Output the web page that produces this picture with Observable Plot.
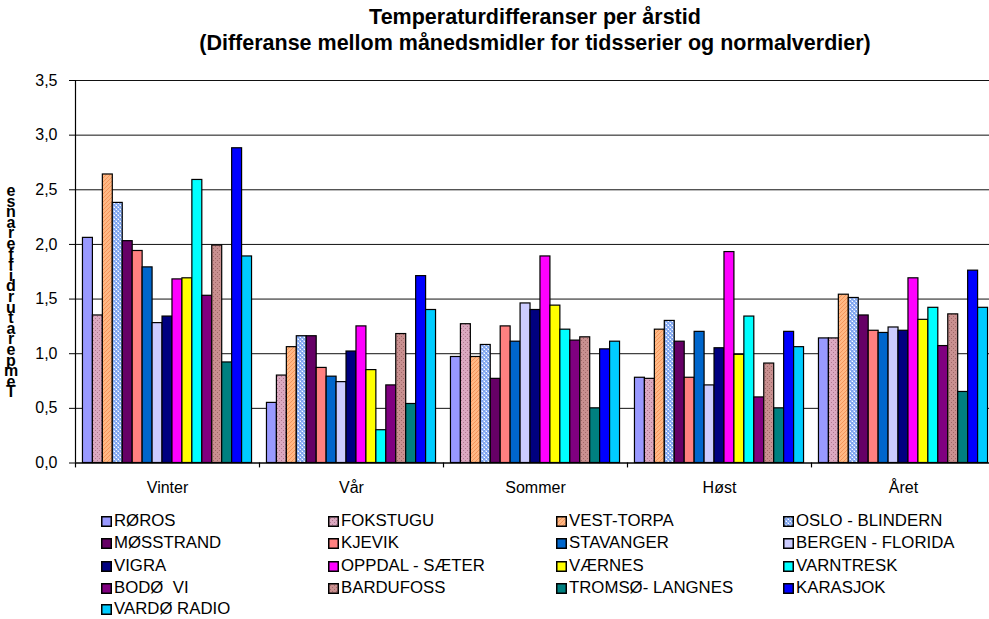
<!DOCTYPE html>
<html><head><meta charset="utf-8">
<script src="https://cdn.jsdelivr.net/npm/d3@7"></script>
<script src="https://cdn.jsdelivr.net/npm/@observablehq/plot@0.6"></script>
<style>
html,body{margin:0;padding:0;background:#fff;overflow:hidden}
#wrap{position:relative;width:989px;height:619px;overflow:hidden;font-family:"Liberation Sans",Arial,sans-serif;color:#000}
.t{position:absolute;left:0;width:1070px;text-align:center;font-weight:bold;font-size:21.5px;line-height:24px;white-space:nowrap}
#ylab{position:absolute;left:1px;top:186px;width:20px;font-weight:bold;font-size:16px;text-align:center}
#ylab div{height:10.6px;line-height:10.6px}
#chart{position:absolute;left:0;top:0}
.li{position:absolute;font-size:16.8px;line-height:18px;white-space:nowrap}
.li svg{position:absolute;left:0;top:4px}
.li span{position:absolute;left:13px;top:0}
</style></head>
<body><div id="wrap">
<div class="t" style="top:5px">Temperaturdifferanser per årstid</div>
<div class="t" style="top:31px">(Differanse mellom månedsmidler for tidsserier og normalverdier)</div>
<div id="ylab"></div>
<div id="chart"></div>
<div id="legend"></div>
</div>
<script>
const seasons = ["Vinter", "Vår", "Sommer", "Høst", "Året"];
const stations = ["RØROS", "FOKSTUGU", "VEST-TORPA", "OSLO - BLINDERN", "MØSSTRAND", "KJEVIK", "STAVANGER", "BERGEN - FLORIDA", "VIGRA", "OPPDAL - SÆTER", "VÆRNES", "VARNTRESK", "BODØ  VI", "BARDUFOSS", "TROMSØ- LANGNES", "KARASJOK", "VARDØ RADIO"];
const fills = ["#9999FF", "url(#pFok)", "url(#pVest)", "url(#pOslo)", "#660066", "#FF8080", "#0066CC", "#CCCCFF", "#000080", "#FF00FF", "#FFFF00", "#00FFFF", "#800080", "url(#pBard)", "#008080", "#0000FF", "#00CCFF"];
const vinter = [2.06, 1.35, 2.64, 2.38, 2.03, 1.94, 1.79, 1.28, 1.34, 1.68, 1.69, 2.59, 1.53, 1.99, 0.92, 2.88, 1.89];
const vaar = [0.55, 0.80, 1.06, 1.16, 1.16, 0.87, 0.79, 0.74, 1.02, 1.25, 0.85, 0.30, 0.71, 1.18, 0.54, 1.71, 1.40];
const sommer = [0.97, 1.27, 0.97, 1.08, 0.77, 1.25, 1.11, 1.46, 1.40, 1.89, 1.44, 1.22, 1.12, 1.15, 0.50, 1.04, 1.11];
const host = [0.78, 0.77, 1.22, 1.30, 1.11, 0.78, 1.20, 0.71, 1.05, 1.93, 0.99, 1.34, 0.60, 0.91, 0.50, 1.20, 1.06];
const aret = [1.14, 1.14, 1.54, 1.51, 1.35, 1.21, 1.19, 1.24, 1.21, 1.69, 1.31, 1.42, 1.07, 1.36, 0.65, 1.76, 1.42];
const yTicks = [0, 0.5, 1.0, 1.5, 2.0, 2.5, 3.0, 3.5];
const yTitle = "Temperaturdifferanse";

const seasonValues = [vinter, vaar, sommer, host, aret];
const rows = seasons.flatMap((s, k) => stations.map((st, i) => ({season: s, station: st, i, value: seasonValues[k][i]})));

const chart = Plot.plot({
  width: 1000, height: 500,
  marginLeft: 74, marginRight: 4, marginTop: 80, marginBottom: 37.5,
  style: {fontFamily: "'Liberation Sans', Arial, sans-serif", fontSize: "16px", background: "transparent", overflow: "visible", maxWidth: "none"},
  fx: {domain: seasons, padding: 0, label: null},
  x: {domain: [-0.75, stations.length + 0.75], axis: null},
  y: {domain: [0, 3.5], axis: null},
  color: {domain: stations, range: fills},
  marks: [
    Plot.gridY(yTicks, {stroke: "#111", strokeOpacity: 1, strokeWidth: 1}),
    Plot.rect(rows, {fx: "season", x1: "i", x2: d => d.i + 1, y1: 0, y2: "value", fill: "station", stroke: "#000", strokeWidth: 1.2}),
    Plot.ruleY([0], {stroke: "#000", strokeWidth: 1.2}),
    Plot.ruleX(seasons, {fx: d => d, x: -0.75, y1: 0, y2: -0.045, stroke: "#000", strokeWidth: 1.2}),
    Plot.ruleX([seasons[0]], {fx: d => d, x: -0.75, y1: 0, y2: 3.5, stroke: "#000", strokeWidth: 1.2}),
    Plot.axisY(yTicks, {anchor: "left", tickSize: 6, tickPadding: 12, fontSize: 16, tickFormat: d => d.toFixed(1).replace(".", ","), label: null}),
    Plot.axisFx({anchor: "bottom", tickSize: 0, tickPadding: 19, fontSize: 16, label: null})
  ]
});

const defs = `
<defs>
<pattern id="pFok" width="4" height="4" patternUnits="userSpaceOnUse"><rect width="4" height="4" fill="#DBA9C0"/><rect x="0" y="0" width="1" height="1" fill="#B07890"/><rect x="2" y="2" width="1" height="1" fill="#B07890"/></pattern>
<pattern id="pVest" width="4" height="4" patternUnits="userSpaceOnUse"><rect width="4" height="4" fill="#FFB884"/><path d="M0,4L4,0" stroke="#F08A50" stroke-width="0.8"/></pattern>
<pattern id="pOslo" width="4" height="4" patternUnits="userSpaceOnUse"><rect width="4" height="4" fill="#A8C4F8"/><rect x="0" y="0" width="2" height="2" fill="#7FA4EE"/><rect x="2" y="2" width="2" height="2" fill="#7FA4EE"/><rect x="1" y="3" width="1" height="1" fill="#fff"/><rect x="3" y="1" width="1" height="1" fill="#fff"/></pattern>
<pattern id="pBard" width="4" height="4" patternUnits="userSpaceOnUse"><rect width="4" height="4" fill="#C99090"/><rect x="0" y="0" width="1" height="1" fill="#A06868"/><rect x="2" y="2" width="1" height="1" fill="#A06868"/></pattern>
</defs>`;
chart.insertAdjacentHTML("afterbegin", defs);
document.getElementById("chart").appendChild(chart);

// y title: stacked letters, reversed (as in the reference)
const yl = document.getElementById("ylab");
yTitle.split("").reverse().forEach(c => { const d = document.createElement("div"); d.textContent = c; yl.appendChild(d); });

// legend
const cols = [101, 328, 556, 783];
const rowsY = [520.7, 543, 566, 588, 609];
const lg = document.getElementById("legend");
stations.forEach((st, i) => {
  const c = i % 4, r = Math.floor(i / 4);
  const el = document.createElement("div");
  el.className = "li";
  el.style.left = cols[c] + "px";
  el.style.top = (rowsY[r] - 9) + "px";
  el.innerHTML = `<svg width="11" height="11"><rect x="0.75" y="0.75" width="9.5" height="9.5" fill="${fills[i]}" stroke="#000" stroke-width="1.5"/></svg><span>${st.replace(/  /g, "&nbsp; ")}</span>`;
  lg.appendChild(el);
});
</script>
</body></html>
